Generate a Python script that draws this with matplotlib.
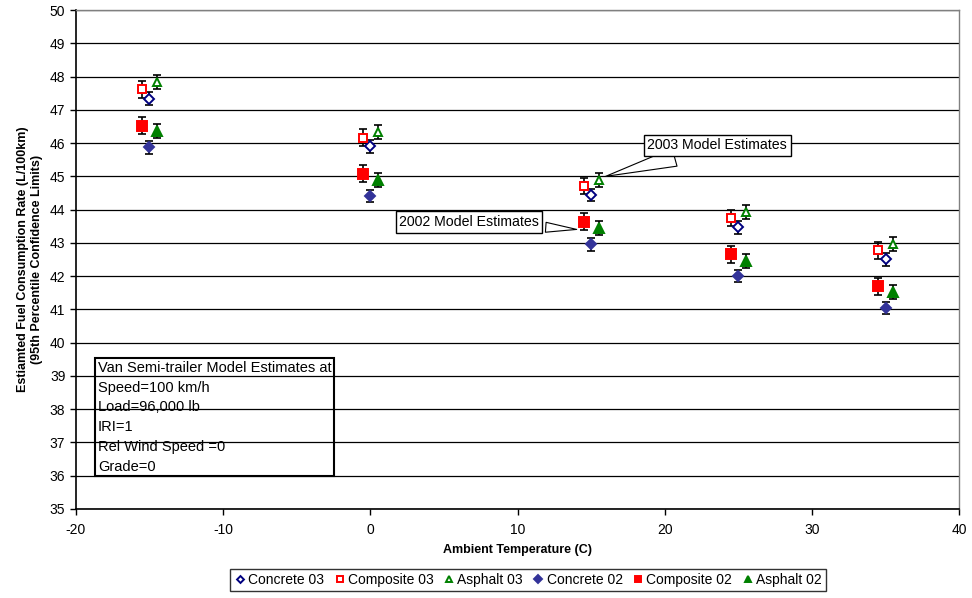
import matplotlib
matplotlib.use('Agg')
import matplotlib.pyplot as plt

plt.rcParams['font.family'] = ['Liberation Sans', 'DejaVu Sans']
plt.rcParams['axes.unicode_minus'] = False

temps = [-15, 0, 15, 25, 35]

concrete_03 = [47.34, 45.90, 44.44, 43.47, 42.51]
composite_03 = [47.62, 46.17, 44.71, 43.75, 42.78]
asphalt_03 = [47.83, 46.35, 44.89, 43.93, 42.97]
concrete_02 = [45.87, 44.41, 42.96, 42.00, 41.04]
composite_02 = [46.53, 45.08, 43.64, 42.66, 41.69]
asphalt_02 = [46.37, 44.90, 43.46, 42.46, 41.52]

err_concrete = 0.19
err_composite = 0.25
err_asphalt = 0.21

# series: label, values, x offset, marker, edge colour, face colour, error, size
series = [
    ('Concrete 03', concrete_03, 0.0, 'D', '#000080', 'white', err_concrete, 5.0),
    ('Composite 03', composite_03, -0.5, 's', '#FF0000', 'white', err_composite, 5.5),
    ('Asphalt 03', asphalt_03, 0.5, '^', '#008000', 'white', err_asphalt, 6.0),
    ('Concrete 02', concrete_02, 0.0, 'D', '#333399', '#333399', err_concrete, 5.5),
    ('Composite 02', composite_02, -0.5, 's', '#FF0000', '#FF0000', err_composite, 7.0),
    ('Asphalt 02', asphalt_02, 0.5, '^', '#008000', '#008000', err_asphalt, 7.0),
]

fig = plt.figure(figsize=(9.72, 5.98), dpi=100)
ax = fig.add_axes([0.078, 0.149, 0.909, 0.834])

for y in range(35, 51):
    ax.axhline(y, color='black', lw=0.9, zorder=1)

for label, vals, off, mk, ec, fc, err, ms in series:
    xs = [t + off for t in temps]
    ax.errorbar(xs, vals, yerr=err, fmt='none', ecolor='black', elinewidth=1.2,
                capsize=3, capthick=1.2, zorder=2)
    ax.plot(xs, vals, linestyle='none', marker=mk, markersize=ms, markeredgecolor=ec,
            markerfacecolor=fc, markeredgewidth=1.4, label=label, zorder=3)

ax.set_xlim(-20, 40)
ax.set_ylim(35, 50)
ax.set_xticks(range(-20, 41, 10))
ax.set_yticks(range(35, 51))
ax.tick_params(labelsize=10, direction='out', length=4, width=1, color='black')
ax.tick_params(axis='x', pad=6)
for side in ['left', 'bottom']:
    ax.spines[side].set_color('black')
    ax.spines[side].set_linewidth(1.2)
for side in ['top', 'right']:
    ax.spines[side].set_color('#808080')
    ax.spines[side].set_linewidth(1)

ax.set_xlabel('Ambient Temperature (C)', fontsize=9, fontweight='bold', labelpad=5)
ax.set_ylabel('Estiamted Fuel Consumption Rate (L/100km)\n(95th Percentile Confidence Limits)',
              fontsize=9, fontweight='bold', labelpad=5)

ax.text(-18.5, 39.45,
        'Van Semi-trailer Model Estimates at\nSpeed=100 km/h\nLoad=96,000 lb\nIRI=1\nRel Wind Speed =0\nGrade=0',
        fontsize=10.5, va='top', ha='left', linespacing=1.52, zorder=4,
        bbox=dict(boxstyle='square,pad=0.2', fc='none', ec='black', lw=1.5))

ax.annotate('2003 Model Estimates', xy=(15.8, 44.98), xytext=(23.55, 45.93),
            fontsize=10.2, ha='center', va='center', zorder=5,
            bbox=dict(boxstyle='square,pad=0.25', fc='white', ec='black', lw=1),
            arrowprops=dict(arrowstyle='wedge,tail_width=1.3', fc='white', ec='black', lw=0.8))
ax.annotate('2002 Model Estimates', xy=(14.2, 43.4), xytext=(11.45, 43.63),
            fontsize=10.2, ha='right', va='center', zorder=5,
            bbox=dict(boxstyle='square,pad=0.25', fc='white', ec='black', lw=1),
            arrowprops=dict(arrowstyle='wedge,tail_width=0.7', fc='white', ec='black', lw=0.8))

fig.legend(loc='center', bbox_to_anchor=(0.543, 0.03), ncol=6, fontsize=10,
           frameon=True, fancybox=False, edgecolor='black', handletextpad=0.15,
           columnspacing=0.65, handlelength=0.9, borderpad=0.3, markerscale=0.7)

fig.savefig('out.png', dpi=100)
